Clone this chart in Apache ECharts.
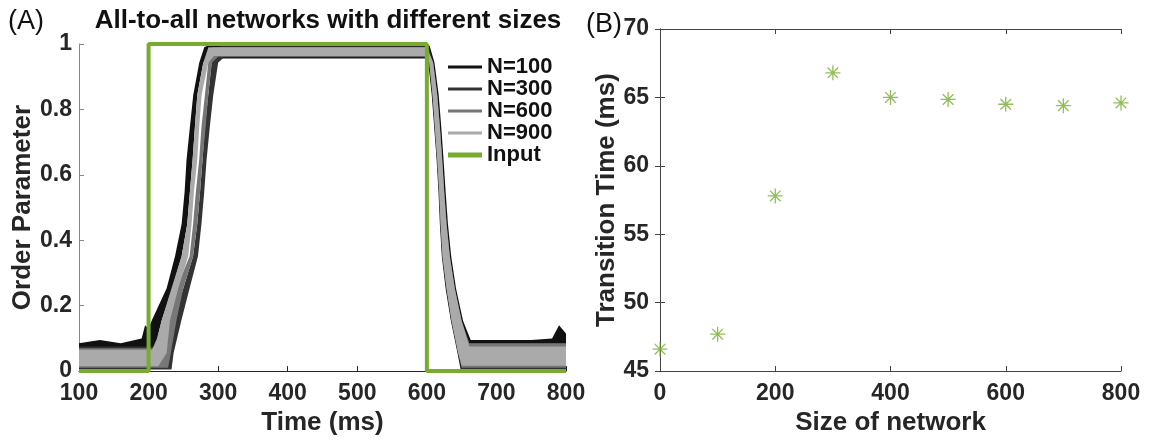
<!DOCTYPE html>
<html><head><meta charset="utf-8">
<script src="https://cdn.jsdelivr.net/npm/echarts@6/dist/echarts.min.js"></script>
<style>html,body{margin:0;padding:0;background:#fff}#c{width:1149px;height:441px}</style>
</head><body><div id="c"></div>
<script>
// ---- Panel A data: noisy traces as [time, value] envelope outlines ----
const n100Upper = [[100,0.085],[130,0.095],[160,0.085],[190,0.1],[195,0.14],[200,0.13],[204.4,0.154],[226,0.253],[238,0.351],[247.5,0.45],[251.8,0.548],[254.6,0.647],[259.4,0.746],[264.2,0.844],[272.8,0.943],[280,0.99],[290,1.0],[598,1.0],[604,0.995],[611,0.943],[617,0.844],[620.7,0.746],[624,0.647],[627,0.548],[630.3,0.45],[635,0.35],[642,0.252],[652,0.154],[663,0.095],[700,0.095],[750,0.095],[780,0.1],[790,0.14],[800,0.115]];
const n100Lower = [[100,0],[200,0],[208,0.055],[218.7,0.154],[234,0.253],[247.5,0.351],[255.6,0.45],[259.4,0.548],[263.3,0.647],[266.6,0.746],[270,0.844],[278.6,0.943],[288,0.956],[598,0.956],[602,0.943],[607,0.844],[610.5,0.746],[614,0.647],[616.7,0.548],[618.7,0.45],[621.5,0.35],[627,0.252],[634.5,0.154],[644,0.055],[649,0],[800,0]];
const n300Upper = [[100,0.075],[228,0.075],[235,0.154],[250,0.253],[264,0.351],[270,0.45],[274,0.548],[277.6,0.647],[281,0.746],[285.8,0.844],[290.6,0.943],[298,0.99],[305,0.993],[598,0.993],[603,0.99],[609,0.943],[615,0.844],[619,0.746],[622.3,0.647],[625.2,0.548],[628.6,0.45],[633.3,0.35],[640.5,0.252],[650.2,0.154],[661,0.085],[800,0.085]];
const n300Lower = [[100,0.005],[233,0.005],[236,0.055],[247,0.154],[259,0.253],[271,0.351],[276,0.45],[280,0.548],[283.4,0.647],[288,0.746],[293,0.844],[300,0.943],[308,0.959],[598,0.959],[603.4,0.943],[608.2,0.844],[611.5,0.746],[614.9,0.647],[617.7,0.548],[619.7,0.45],[622.5,0.35],[628.3,0.252],[635.5,0.154],[645,0.055],[650,0.005],[800,0.005]];
const n600Upper = [[100,0.07],[222,0.07],[229,0.154],[240,0.253],[259,0.351],[264,0.45],[268,0.548],[272.8,0.647],[276,0.746],[281,0.844],[285.8,0.943],[292,0.99],[600,0.99],[609.1,0.943],[614.9,0.844],[618.7,0.746],[622,0.647],[624.9,0.548],[628.3,0.45],[633,0.35],[640.2,0.252],[649.9,0.154],[661,0.085],[800,0.085]];
const n600Lower = [[100,0.01],[228,0.01],[232,0.055],[240,0.154],[250,0.253],[264,0.351],[270,0.45],[274,0.548],[277.6,0.647],[282,0.746],[285.8,0.844],[291,0.943],[300,0.961],[598,0.961],[603.4,0.943],[608.2,0.844],[611.5,0.746],[614.9,0.647],[617.7,0.548],[619.7,0.45],[622.5,0.35],[628.3,0.252],[635.5,0.154],[645,0.055],[650,0.01],[800,0.01]];
const n900Upper = [[100,0.065],[205,0.065],[212,0.1],[218.7,0.154],[233,0.253],[247.5,0.351],[255.6,0.45],[259.4,0.548],[263.3,0.647],[266.6,0.746],[270,0.844],[278.6,0.943],[286,0.99],[600,0.99],[609.1,0.943],[614.9,0.844],[618.7,0.746],[622,0.647],[624.9,0.548],[628.3,0.45],[633,0.35],[640.2,0.252],[649.9,0.154],[661,0.075],[800,0.075]];
const n900Lower = [[100,0.015],[214,0.015],[226,0.055],[230.7,0.154],[242.7,0.253],[257,0.351],[261.8,0.45],[265.2,0.548],[270,0.647],[272.8,0.746],[276.2,0.844],[285.8,0.943],[294,0.963],[598,0.963],[603.4,0.943],[608.2,0.844],[611.5,0.746],[614.9,0.647],[617.7,0.548],[619.7,0.45],[622.5,0.35],[628.3,0.252],[635.5,0.154],[645,0.055],[650,0.016],[800,0.016]];
const inputPulse = [[100,0],[200,0],[200,1],[600,1],[600,0],[800,0]];
const timeTicks = [100,200,300,400,500,600,700,800];
const orderTicks = [0,0.2,0.4,0.6,0.8,1];

// ---- Panel B data ----
const networkSizes = [0,100,200,300,400,500,600,700,800];
const transitionTimes = [46.6,47.7,57.8,66.8,65.0,64.85,64.5,64.4,64.6];
const sizeTicks = [0,200,400,600,800];
const transTicks = [45,50,55,60,65,70];

const GREEN = '#77ac30';
const FONT = 'Liberation Sans, Arial, Helvetica, sans-serif';
const chart = echarts.init(document.getElementById('c'), null, {renderer:'canvas'});

function band(name, upper, lower, color, z) {
  return {
    type:'custom', name:name, xAxisIndex:0, yAxisIndex:0, z:z, clip:false,
    itemStyle:{color:color},
    data: upper.concat(lower),
    renderItem: function(params, api) {
      if (params.dataIndex !== 0) return null;
      const pts = upper.map(p => api.coord(p)).concat(lower.slice().reverse().map(p => api.coord(p)));
      return {type:'polygon', shape:{points:pts}, style:{fill:color}};
    },
    silent:true
  };
}

const tickLbl = {fontFamily:FONT, fontWeight:'bold', fontSize:23, color:'#262626'};
const nameSty = {fontFamily:FONT, fontWeight:'bold', fontSize:26, color:'#262626'};

const option = {
  animation:false,
  backgroundColor:'#fff',
  title:[
    {text:'(A)', left:3, top:3, textStyle:{fontFamily:FONT, fontWeight:'normal', fontSize:27, color:'#111'}},
    {text:'All-to-all networks with different sizes', left:323, textAlign:'center', top:3, textStyle:{fontFamily:FONT, fontWeight:'bold', fontSize:26, color:'#111'}},
    {text:'(B)', left:581, top:6, textStyle:{fontFamily:FONT, fontWeight:'normal', fontSize:27, color:'#111'}}
  ],
  legend:[
    {orient:'vertical', left:443, top:51, itemWidth:34, itemHeight:3, itemGap:0, icon:'rect',
     data:['N=100','N=300','N=600','N=900'],
     textStyle:{fontFamily:FONT, fontWeight:'bold', fontSize:22, color:'#111', lineHeight:22}},
    {orient:'vertical', left:443, top:139, itemWidth:34, itemHeight:5, itemGap:0, icon:'rect',
     data:['Input'],
     textStyle:{fontFamily:FONT, fontWeight:'bold', fontSize:22, color:'#111', lineHeight:22}}
  ],
  grid:[
    {left:79, right:583, top:44, bottom:59},
    {left:660, right:28, top:29, bottom:60}
  ],
  xAxis:[
    {type:'value', gridIndex:0, min:timeTicks[0], max:timeTicks[timeTicks.length-1], interval:100,
     name:'Time (ms)', nameLocation:'middle', nameGap:33, nameTextStyle:nameSty,
     axisLine:{lineStyle:{color:'#262626', width:1}}, axisTick:{inside:true, length:5, lineStyle:{color:'#262626'}},
     axisLabel:Object.assign({margin:11}, tickLbl), splitLine:{show:false}},
    {type:'value', gridIndex:1, min:sizeTicks[0], max:sizeTicks[sizeTicks.length-1], interval:200,
     name:'Size of network', nameLocation:'middle', nameGap:33, nameTextStyle:nameSty,
     axisLine:{lineStyle:{color:'#444', width:1}}, axisTick:{inside:true, length:5, lineStyle:{color:'#444'}},
     axisLabel:Object.assign({margin:11}, tickLbl), splitLine:{show:false}},
    {type:'value', gridIndex:1, position:'top', min:0, max:800, interval:200,
     axisLine:{lineStyle:{color:'#444', width:1}}, axisTick:{inside:true, length:5, lineStyle:{color:'#444'}},
     axisLabel:{show:false}, splitLine:{show:false}}
  ],
  yAxis:[
    {type:'value', gridIndex:0, min:orderTicks[0], max:orderTicks[orderTicks.length-1], interval:0.2,
     name:'Order Parameter', nameLocation:'middle', nameGap:42, nameTextStyle:nameSty,
     axisLine:{show:true, lineStyle:{color:'#888', width:1}}, axisTick:{show:true, inside:true, length:5, lineStyle:{color:'#888'}},
     axisLabel:Object.assign({margin:7}, tickLbl), splitLine:{show:false}},
    {type:'value', gridIndex:1, min:transTicks[0], max:transTicks[transTicks.length-1], interval:5,
     name:'Transition Time (ms)', nameLocation:'middle', nameGap:38, nameTextStyle:nameSty,
     axisLine:{show:true, lineStyle:{color:'#444', width:1}}, axisTick:{show:true, inside:true, length:5, lineStyle:{color:'#444'}},
     axisLabel:Object.assign({margin:11}, tickLbl), splitLine:{show:false}},
    {type:'value', gridIndex:1, position:'right', min:45, max:70, interval:5,
     axisLine:{show:true, lineStyle:{color:'#444', width:1}}, axisTick:{show:true, inside:true, length:5, lineStyle:{color:'#444'}},
     axisLabel:{show:false}, splitLine:{show:false}}
  ],
  series:[
    band('N=100', n100Upper, n100Lower, '#111111', 2),
    band('N=300', n300Upper, n300Lower, '#333333', 3),
    band('N=600', n600Upper, n600Lower, '#777777', 4),
    band('N=900', n900Upper, n900Lower, '#aaaaaa', 5),
    {type:'line', name:'Input', xAxisIndex:0, yAxisIndex:0, data:inputPulse, showSymbol:false, symbol:'none',
     lineStyle:{color:GREEN, width:4}, itemStyle:{color:GREEN}, z:6, silent:true},
    {type:'scatter', name:'Transition', xAxisIndex:1, yAxisIndex:1,
     data:networkSizes.map((s,i)=>[s, transitionTimes[i]]),
     symbol:'path://M0,-10L0,10M-10,0L10,0M-7.07,-7.07L7.07,7.07M-7.07,7.07L7.07,-7.07',
     symbolSize:15,
     itemStyle:{color:'rgba(0,0,0,0)', borderColor:GREEN, borderWidth:1.3}, z:5, silent:true}
  ]
};
chart.setOption(option);
</script></body></html>
